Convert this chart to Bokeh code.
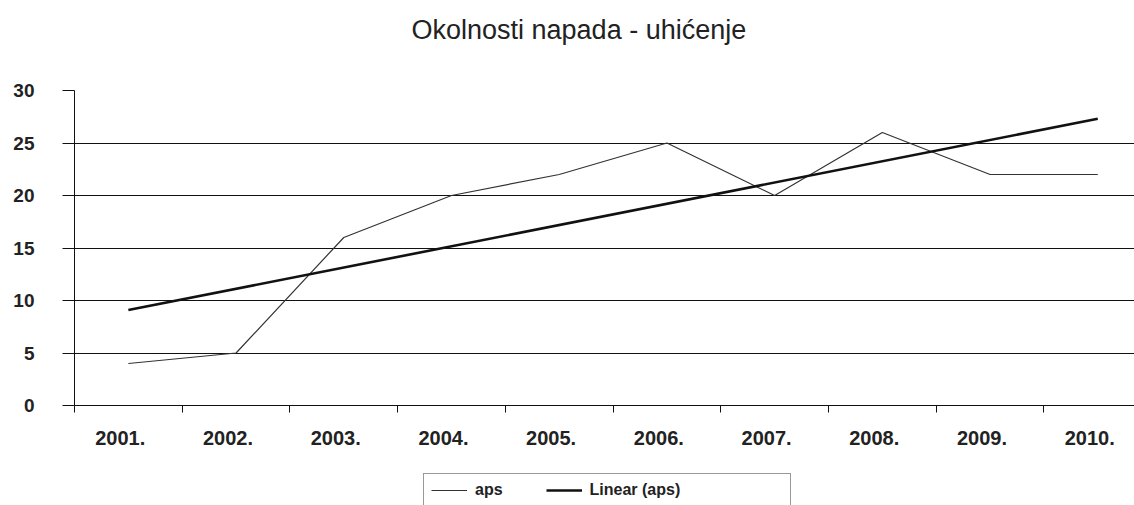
import numpy as np
from bokeh.plotting import figure
from bokeh.models import Range1d, FixedTicker, Legend, LegendItem, ColumnDataSource, Label
from bokeh.layouts import column
from bokeh.embed import file_html
from bokeh.resources import INLINE

# ---- data ----
years = ["2001.", "2002.", "2003.", "2004.", "2005.", "2006.", "2007.", "2008.", "2009.", "2010."]
aps = [4, 5, 16, 20, 22, 25, 20, 26, 22, 22]
y_ticks = [0, 5, 10, 15, 20, 25, 30]
title_text = "Okolnosti napada - uhićenje"
legend_labels = ["aps", "Linear (aps)"]

x = np.arange(1, len(years) + 1)
slope, intercept = np.polyfit(x, aps, 1)
trend_x = [float(x[0]), float(x[-1])]
trend_y = [slope * t + intercept for t in trend_x]

FONT = "Liberation Sans"
W = 1134

# ---------- title strip ----------
ft = figure(width=W, height=60, output_backend="svg", toolbar_location=None,
            x_range=Range1d(0, 1), y_range=Range1d(0, 1),
            x_axis_location=None, y_axis_location=None,
            min_border=0, outline_line_color=None)
ft.grid.grid_line_color = None
ft.add_layout(Label(x=337, y=31, x_units="screen", y_units="screen", text=title_text,
                    text_font=FONT, text_font_size="27px", text_color="#222222",
                    text_align="left", text_baseline="middle"))

# ---------- main chart ----------
p = figure(width=W, height=400, output_backend="svg", toolbar_location=None,
           x_range=Range1d(0.5, 10.341), y_range=Range1d(0, 30),
           min_border_left=74, min_border_right=0, min_border_top=30, min_border_bottom=55)
p.outline_line_color = None

p.xgrid.grid_line_color = None
p.ygrid.ticker = FixedTicker(ticks=y_ticks)
p.ygrid.grid_line_color = "#111111"
p.ygrid.grid_line_width = 1

p.yaxis.ticker = FixedTicker(ticks=y_ticks)
p.yaxis.major_tick_out = 12
p.yaxis.major_tick_in = 0
p.yaxis.minor_tick_line_color = None
p.yaxis.major_label_standoff = 28
p.yaxis.major_label_text_font = FONT
p.yaxis.major_label_text_font_size = "19px"
p.yaxis.major_label_text_font_style = "bold"
p.yaxis.major_label_text_color = "#222222"
p.yaxis.axis_line_color = "#111111"
p.yaxis.major_tick_line_color = "#111111"

label_pos = [float(i) - 0.075 for i in x]
p.xaxis.ticker = FixedTicker(ticks=label_pos, minor_ticks=[i + 0.5 for i in range(0, 11)])
p.xaxis.major_label_overrides = {pos: yr for pos, yr in zip(label_pos, years)}
p.xaxis.major_tick_line_color = None
p.xaxis.major_tick_out = 0
p.xaxis.minor_tick_out = 7
p.xaxis.minor_tick_in = 0
p.xaxis.minor_tick_line_color = "#111111"
p.xaxis.axis_line_color = "#111111"
p.xaxis.major_label_standoff = 18
p.xaxis.major_label_text_font = FONT
p.xaxis.major_label_text_font_size = "20px"
p.xaxis.major_label_text_font_style = "bold"
p.xaxis.major_label_text_color = "#222222"

src = ColumnDataSource(dict(x=x, y=aps))
p.line("x", "y", source=src, line_color="#333333", line_width=1.2)
p.line(trend_x, trend_y, line_color="#111111", line_width=2.6)

# ---------- legend strip (series drawn out of view; only their legend samples show) ----------
fl = figure(width=W, height=45, output_backend="svg", toolbar_location=None,
            x_range=Range1d(-2, -1), y_range=Range1d(-2, -1),
            x_axis_location=None, y_axis_location=None,
            min_border=0, outline_line_color=None)
fl.grid.grid_line_color = None
k_aps = fl.line("x", "y", source=src, line_color="#333333", line_width=1.2)
k_trend = fl.line(trend_x, trend_y, line_color="#111111", line_width=2.6)
k_pad = fl.line(trend_x, trend_y, line_alpha=0)
legend = Legend(items=[LegendItem(label=legend_labels[0], renderers=[k_aps]),
                       LegendItem(label=legend_labels[1], renderers=[k_trend]),
                       LegendItem(label=" ", renderers=[k_pad])],
                orientation="horizontal", location=(349, -2))
legend.label_text_font = FONT
legend.label_text_font_size = "16px"
legend.label_text_font_style = "bold"
legend.label_text_color = "#222222"
legend.glyph_width = 36
legend.glyph_height = 16
legend.label_height = 16
legend.label_width = 16
legend.label_standoff = 8
legend.spacing = 43
legend.padding = 7
legend.margin = 0
legend.border_line_color = "#333333"
legend.border_line_width = 1
legend.background_fill_alpha = 0
fl.add_layout(legend, "center")

layout = column(ft, p, fl, spacing=0)
open("out.html", "w").write(file_html(layout, INLINE))
